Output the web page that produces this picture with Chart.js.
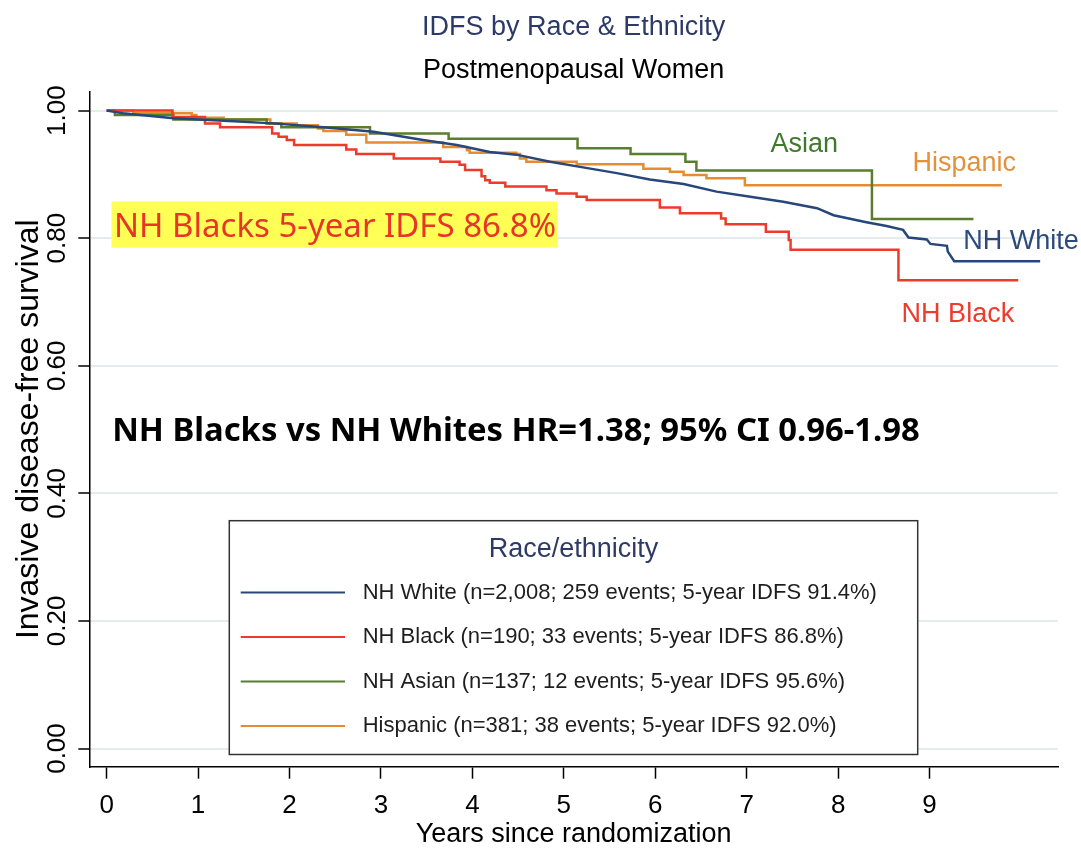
<!DOCTYPE html>
<html>
<head>
<meta charset="utf-8">
<title>IDFS by Race &amp; Ethnicity</title>
<script src="https://cdn.jsdelivr.net/npm/chart.js@4.4.1/dist/chart.umd.min.js"></script>
<style>
  html, body { margin: 0; padding: 0; background: #ffffff; }
  #wrap { width: 1081px; height: 852px; }
</style>
</head>
<body>
<div id="wrap"><canvas id="km" width="1081" height="852"></canvas></div>
<script>
// Kaplan-Meier estimates: years since randomization and IDFS at each step
const whiteYears = [0, 0.18, 0.73, 1.28, 1.82, 2.37, 2.92, 3.46, 3.83, 4.19, 4.48, 4.85, 5.21, 5.58, 5.94, 6.31, 6.67, 7.04, 7.40, 7.77, 7.95, 8.31, 8.53, 8.71, 8.77, 8.97, 9.01, 9.19, 9.20, 9.27, 10.21];
const whiteIdfs  = [1.000, 0.996, 0.988, 0.984, 0.980, 0.974, 0.967, 0.954, 0.946, 0.935, 0.931, 0.920, 0.911, 0.902, 0.892, 0.885, 0.873, 0.865, 0.857, 0.847, 0.836, 0.825, 0.819, 0.813, 0.801, 0.798, 0.791, 0.788, 0.779, 0.764, 0.764];

const blackYears = [0, 0.72, 1.075, 1.24, 1.81, 1.88, 1.97, 2.05, 2.62, 2.73, 3.14, 3.65, 3.86, 3.92, 4.10, 4.14, 4.19, 4.36, 4.81, 4.92, 5.14, 5.25, 6.05, 6.27, 6.72, 6.77, 7.21, 7.46, 7.48, 8.66, 9.97];
const blackIdfs  = [1.000, 0.990, 0.980, 0.974, 0.964, 0.959, 0.954, 0.946, 0.939, 0.932, 0.925, 0.920, 0.915, 0.907, 0.897, 0.891, 0.887, 0.881, 0.875, 0.870, 0.865, 0.860, 0.848, 0.839, 0.831, 0.822, 0.810, 0.797, 0.782, 0.734, 0.734];

const asianYears = [0, 0.09, 0.73, 1.75, 1.91, 2.88, 3.74, 5.15, 5.73, 6.33, 6.45, 8.37, 9.48];
const asianIdfs  = [1.000, 0.993, 0.986, 0.980, 0.974, 0.964, 0.956, 0.941, 0.932, 0.920, 0.906, 0.830, 0.830];

const hispYears = [0, 0.29, 0.93, 0.98, 1.28, 1.79, 2.08, 2.31, 2.37, 2.62, 2.84, 3.68, 3.94, 3.97, 4.48, 4.52, 4.59, 5.14, 5.87, 6.16, 6.31, 6.56, 6.98, 9.79];
const hispIdfs  = [1.000, 0.996, 0.993, 0.989, 0.986, 0.980, 0.977, 0.972, 0.968, 0.962, 0.950, 0.943, 0.938, 0.934, 0.932, 0.925, 0.920, 0.916, 0.909, 0.904, 0.899, 0.894, 0.883, 0.883];

const groupLabels = [
  'NH White (n=2,008; 259 events; 5-year IDFS 91.4%)',
  'NH Black (n=190; 33 events; 5-year IDFS 86.8%)',
  'NH Asian (n=137; 12 events; 5-year IDFS 95.6%)',
  'Hispanic (n=381; 38 events; 5-year IDFS 92.0%)'
];
const curveNames = ['NH White', 'NH Black', 'Asian', 'Hispanic'];

const xTickValues = [0, 1, 2, 3, 4, 5, 6, 7, 8, 9];
const yTickValues = [0, 0.2, 0.4, 0.6, 0.8, 1.0];

const blackFiveYear = 86.8;
const hrText = 'NH Blacks vs NH Whites HR=1.38; 95% CI 0.96-1.98';

// ---- styling ----
const SANS = '"Liberation Sans", Arial, Helvetica, sans-serif';
const CAL = '"Noto Sans", "Open Sans", sans-serif';
const lineColors = ['#27477a', '#ee3a2b', '#5a7e2e', '#e58c32'];
const nameColors = ['#2c4a7c', '#ee3b2c', '#3e7a2b', '#e3913a'];
const NAVY = '#2d3a66';

function points(xs, ys) { return xs.map((x, i) => ({ x: x, y: ys[i] })); }

const seriesYears = [whiteYears, blackYears, asianYears, hispYears];
const seriesIdfs = [whiteIdfs, blackIdfs, asianIdfs, hispIdfs];

const datasets = seriesYears.map((yrs, i) => ({
  label: groupLabels[i],
  data: points(yrs, seriesIdfs[i]),
  borderColor: lineColors[i],
  backgroundColor: lineColors[i],
  borderWidth: 2.5,
  pointRadius: 0,
  pointHoverRadius: 0,
  fill: false,
  tension: 0,
  stepped: i === 0 ? false : 'before'
}));

// curve name tags, placed in data units
const nameAnchors = [
  { x: 10.0, y: 0.795 },
  { x: 9.31, y: 0.681 },
  { x: 7.63, y: 0.947 },
  { x: 9.38, y: 0.917 }
];

// boxed legend inside the plot
const legendBox = {
  id: 'raceLegend',
  afterDatasetsDraw(chart, args, o) {
    const ctx = chart.ctx;
    ctx.save();
    ctx.fillStyle = '#ffffff';
    ctx.fillRect(o.left, o.top, o.right - o.left, o.bottom - o.top);
    ctx.strokeStyle = '#333333';
    ctx.lineWidth = 1.5;
    ctx.strokeRect(o.left, o.top, o.right - o.left, o.bottom - o.top);
    ctx.fillStyle = NAVY;
    ctx.font = '27px ' + SANS;
    ctx.textAlign = 'center';
    ctx.textBaseline = 'middle';
    ctx.fillText('Race/ethnicity', (o.left + o.right) / 2, o.titleY);
    chart.data.datasets.forEach((ds, i) => {
      const y = o.rowY + i * o.rowGap;
      ctx.strokeStyle = ds.borderColor;
      ctx.lineWidth = 2;
      ctx.beginPath();
      ctx.moveTo(o.sampleX1, y);
      ctx.lineTo(o.sampleX2, y);
      ctx.stroke();
      ctx.fillStyle = '#1e1e1e';
      ctx.font = '22px ' + SANS;
      ctx.textAlign = 'left';
      ctx.fillText(ds.label, o.textX, y);
    });
    ctx.restore();
  }
};

// highlighted 5-year figure, hazard ratio statement and curve name tags
const notes = {
  id: 'notes',
  afterDatasetsDraw(chart) {
    const ctx = chart.ctx;
    const xs = chart.scales.x, ys = chart.scales.y;
    ctx.save();

    // yellow highlighted statement
    const hl = 'NH Blacks 5-year IDFS ' + blackFiveYear.toFixed(1) + '%';
    ctx.font = '33px ' + CAL;
    const hx = xs.getPixelForValue(0.08);
    const hy = ys.getPixelForValue(0.802);
    const w = ctx.measureText(hl).width;
    ctx.fillStyle = '#ffff55';
    ctx.fillRect(hx - 2.5, hy - 35.5, w + 4, 46.3);
    ctx.fillStyle = '#e8352a';
    ctx.textAlign = 'left';
    ctx.textBaseline = 'alphabetic';
    ctx.fillText(hl, hx, hy);

    // hazard ratio
    ctx.font = 'bold 32.8px ' + CAL;
    ctx.fillStyle = '#000000';
    ctx.textBaseline = 'middle';
    ctx.fillText(hrText, xs.getPixelForValue(0.06), ys.getPixelForValue(0.496));

    // curve names
    ctx.font = '27px ' + SANS;
    ctx.textAlign = 'center';
    curveNames.forEach((n, i) => {
      ctx.fillStyle = nameColors[i];
      ctx.fillText(n, xs.getPixelForValue(nameAnchors[i].x), ys.getPixelForValue(nameAnchors[i].y));
    });
    ctx.restore();
  }
};

new Chart(document.getElementById('km'), {
  type: 'line',
  data: { datasets: datasets },
  plugins: [notes, legendBox],
  options: {
    responsive: false,
    animation: false,
    devicePixelRatio: 1,
    layout: { padding: { left: 0, right: 23, top: 0, bottom: 0 } },
    plugins: {
      legend: { display: false },
      tooltip: { enabled: false },
      title: {
        display: true,
        fullSize: false,
        text: 'IDFS by Race & Ethnicity',
        color: NAVY,
        font: { family: SANS, size: 27, weight: 'normal' },
        padding: { top: 11, bottom: 11 }
      },
      subtitle: {
        display: true,
        fullSize: false,
        text: 'Postmenopausal Women',
        color: '#000000',
        font: { family: SANS, size: 27, weight: 'normal' },
        padding: { top: 0, bottom: 5 }
      },
      raceLegend: {
        left: 229.3, top: 520.7, right: 917.7, bottom: 754.5,
        titleY: 550, rowY: 592.5, rowGap: 44.5,
        sampleX1: 240.7, sampleX2: 345, textX: 362.7
      }
    },
    scales: {
      x: {
        type: 'linear',
        min: -0.19,
        max: 10.405,
        afterBuildTicks: s => { s.ticks = xTickValues.map(v => ({ value: v })); },
        afterFit: s => { s.height = 85.3; },
        ticks: {
          color: '#000000',
          font: { family: SANS, size: 26 },
          padding: 12,
          maxRotation: 0,
          autoSkip: false,
          callback: v => String(v)
        },
        grid: {
          drawOnChartArea: false,
          drawTicks: true,
          tickLength: 12,
          tickColor: '#000000',
          tickWidth: 1.5
        },
        border: { display: true, color: '#000000', width: 1.5 },
        title: {
          display: true,
          text: 'Years since randomization',
          color: '#000000',
          font: { family: SANS, size: 27 },
          padding: { top: 0, bottom: 1 }
        }
      },
      y: {
        type: 'linear',
        min: -0.0285,
        max: 1.0295,
        afterBuildTicks: s => { s.ticks = yTickValues.map(v => ({ value: v })); },
        afterFit: s => { s.width = 89.3; },
        ticks: {
          color: '#000000',
          font: { family: SANS, size: 26 },
          minRotation: 90,
          maxRotation: 90,
          crossAlign: 'center',
          padding: -5,
          autoSkip: false,
          callback: v => Number(v).toFixed(2)
        },
        grid: {
          color: '#e4ecee',
          lineWidth: 2,
          drawTicks: true,
          tickLength: 11,
          tickColor: '#000000',
          tickWidth: 1.5
        },
        border: { display: true, color: '#000000', width: 1.5 },
        title: {
          display: true,
          text: 'Invasive disease-free survival',
          color: '#000000',
          font: { family: SANS, size: 32 },
          padding: { top: 10, bottom: 0 }
        }
      }
    }
  }
});
</script>
</body>
</html>
